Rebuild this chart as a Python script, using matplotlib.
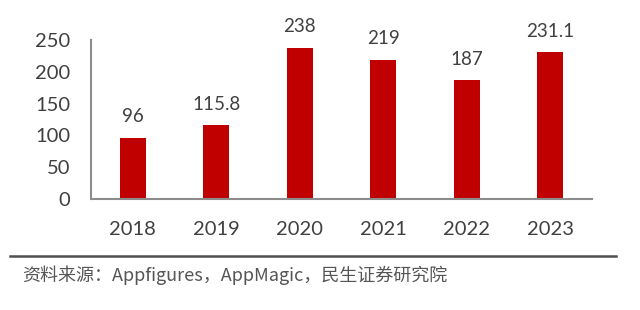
import matplotlib.pyplot as plt

years = ['2018', '2019', '2020', '2021', '2022', '2023']
values = [96, 115.8, 238, 219, 187, 231.1]
value_labels = ['96', '115.8', '238', '219', '187', '231.1']
source = '资料来源：Appfigures，AppMagic，民生证券研究院'

plt.rcParams['font.family'] = ['Lato', 'Noto Sans CJK SC', 'DejaVu Sans']

fig = plt.figure(figsize=(6.4, 3.1), dpi=100)
ax = fig.add_axes([0.142, 0.358, 0.783, 0.513])

x = range(len(years))
bars = ax.bar(x, values, width=0.31, color='#C00000')
for b, lab in zip(bars, value_labels):
    ax.annotate(lab, (b.get_x() + b.get_width() / 2, b.get_height()),
                xytext=(0, 9), textcoords='offset points',
                ha='center', va='bottom', fontsize=13.5, color='#404040')

ax.set_xlim(-0.5, 5.5)
ax.set_ylim(0, 250)
ax.set_yticks([0, 50, 100, 150, 200, 250])
ax.set_xticks(list(x))
ax.set_xticklabels(years)
ax.tick_params(axis='both', length=0, labelsize=14.5, labelcolor='#404040')
ax.tick_params(axis='y', pad=15)
ax.tick_params(axis='x', pad=16)

for s in ['top', 'right']:
    ax.spines[s].set_visible(False)
for s in ['left', 'bottom']:
    ax.spines[s].set_color('#8c8c8c')
    ax.spines[s].set_linewidth(1.5)

fig.add_artist(plt.Line2D([10 / 640, 616 / 640], [1 - 256 / 310, 1 - 256 / 310],
                          color='#505050', linewidth=1.8))
fig.text(22 / 640, 1 - 275 / 310, source, fontsize=13, color='#555555',
         ha='left', va='center', family=['Noto Sans CJK SC', 'DejaVu Sans'])

fig.savefig('out.png', dpi=100)
